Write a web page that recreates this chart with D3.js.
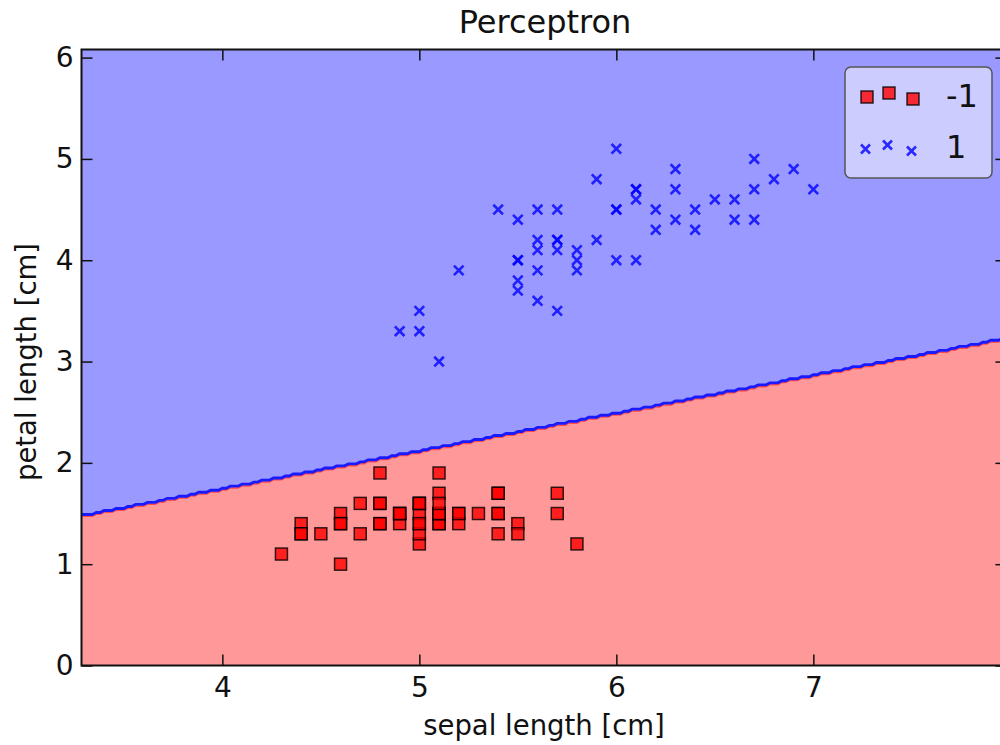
<!DOCTYPE html>
<html>
<head>
<meta charset="utf-8">
<script src="https://d3js.org/d3.v7.min.js"></script>
<style>
    body { margin: 0; background: #fff; }
    text { font-family: "DejaVu Sans", sans-serif; fill: #111; }
</style>
</head>
<body>
<div id="my_chart"></div>
<script>
// class -1 (setosa): sepal length / petal length
var setosaSepal = [5.1, 4.9, 4.7, 4.6, 5.0, 5.4, 4.6, 5.0, 4.4, 4.9,
    5.4, 4.8, 4.8, 4.3, 5.8, 5.7, 5.4, 5.1, 5.7, 5.1,
    5.4, 5.1, 4.6, 5.1, 4.8, 5.0, 5.0, 5.2, 5.2, 4.7,
    4.8, 5.4, 5.2, 5.5, 4.9, 5.0, 5.5, 4.9, 4.4, 5.1,
    5.0, 4.5, 4.4, 5.0, 5.1, 4.8, 5.1, 4.6, 5.3, 5.0];
var setosaPetal = [1.4, 1.4, 1.3, 1.5, 1.4, 1.7, 1.4, 1.5, 1.4, 1.5,
    1.5, 1.6, 1.4, 1.1, 1.2, 1.5, 1.3, 1.4, 1.7, 1.5,
    1.7, 1.5, 1.0, 1.7, 1.9, 1.6, 1.6, 1.5, 1.4, 1.6,
    1.6, 1.5, 1.5, 1.4, 1.5, 1.2, 1.3, 1.5, 1.3, 1.5,
    1.3, 1.3, 1.3, 1.6, 1.9, 1.4, 1.6, 1.4, 1.5, 1.4];

// class 1 (versicolor)
var versiSepal = [7.0, 6.4, 6.9, 5.5, 6.5, 5.7, 6.3, 4.9, 6.6, 5.2,
    5.0, 5.9, 6.0, 6.1, 5.6, 6.7, 5.6, 5.8, 6.2, 5.6,
    5.9, 6.1, 6.3, 6.1, 6.4, 6.6, 6.8, 6.7, 6.0, 5.7,
    5.5, 5.5, 5.8, 6.0, 5.4, 6.0, 6.7, 6.3, 5.6, 5.5,
    5.5, 6.1, 5.8, 5.0, 5.6, 5.7, 5.7, 6.2, 5.1, 5.7];
var versiPetal = [4.7, 4.5, 4.9, 4.0, 4.6, 4.5, 4.7, 3.3, 4.6, 3.9,
    3.5, 4.2, 4.0, 4.7, 3.6, 4.4, 4.5, 4.1, 4.5, 3.9,
    4.8, 4.0, 4.9, 4.7, 4.3, 4.4, 4.8, 5.0, 4.5, 3.5,
    3.8, 3.7, 3.9, 5.1, 4.5, 4.5, 4.7, 4.4, 4.1, 4.0,
    4.4, 4.6, 4.0, 3.3, 4.2, 4.2, 4.2, 4.3, 3.0, 4.1];

var xTicks = [4, 5, 6, 7];
var yTicks = [0, 1, 2, 3, 4, 5, 6];
var legendLabels = ["-1", "1"];

// decision boundary, read at the left and right edges of the plot
var boundaryX = [3.3, 7.95];
var boundaryY = [1.485, 3.22];
var gridStep = 0.02;
var gridX = [3.3, 7.98];

var margin = {
        top: 49.5,
        right: -6.4,
        bottom: 79.5,
        left: 81.5
    },
    width = 1000 - margin.left - margin.right,
    height = 745 - margin.top - margin.bottom;

var svg = d3.select("#my_chart")
    .append("svg")
    .attr("width", 1000)
    .attr("height", 745);

var plot = svg.append("g")
    .attr("transform", "translate(" + margin.left + "," + margin.top + ")");

var x = d3.scaleLinear()
    .domain([3.285, 7.98])
    .range([0, width]);
var y = d3.scaleLinear()
    .domain([0, 6.08])
    .range([height, 0]);

plot.append("clipPath")
    .attr("id", "clip")
    .append("rect")
    .attr("width", width)
    .attr("height", height);

var area = plot.append("g").attr("clip-path", "url(#clip)");

////////// decision regions //////////
var slope = (boundaryY[1] - boundaryY[0]) / (boundaryX[1] - boundaryX[0]);
var edge = [];
var nCols = Math.round((gridX[1] - gridX[0]) / gridStep);
for (var i = 0; i <= nCols; i++) {
    var gx = gridX[0] + i * gridStep;
    var ly = boundaryY[0] + slope * (gx - boundaryX[0]);
    var k = Math.ceil(ly / gridStep - 1e-9);
    edge.push([gx, (k - 0.5) * gridStep]);
}
// stretch to the plot edges
edge.unshift([x.domain()[0] - 0.05, edge[0][1]]);
edge.push([x.domain()[1] + 0.05, edge[edge.length - 1][1]]);

var line = d3.line()
    .x(d => x(d[0]))
    .y(d => y(d[1]));

var redPoly = edge.concat([[x.domain()[1] + 0.05, -0.1], [x.domain()[0] - 0.05, -0.1]]);
var bluePoly = edge.concat([[x.domain()[1] + 0.05, 6.2], [x.domain()[0] - 0.05, 6.2]]);

area.append("path")
    .attr("d", line(redPoly) + "Z")
    .attr("fill", "#ff9999");
area.append("path")
    .attr("d", line(bluePoly) + "Z")
    .attr("fill", "#9999ff");

area.append("path")
    .attr("d", line(edge))
    .attr("transform", "translate(0,1.8)")
    .attr("fill", "none")
    .attr("stroke", "#ff2a2a")
    .attr("stroke-opacity", 0.7)
    .attr("stroke-width", 1.5);
area.append("path")
    .attr("d", line(edge))
    .attr("fill", "none")
    .attr("stroke", "#1a1aff")
    .attr("stroke-width", 2.9);

////////// points //////////
var sq = 12;
area.selectAll("rect.neg")
    .data(setosaSepal)
    .enter()
    .append("rect")
    .attr("class", "neg")
    .attr("x", (d, i) => x(d) - sq / 2)
    .attr("y", (d, i) => y(setosaPetal[i]) - sq / 2)
    .attr("width", sq)
    .attr("height", sq)
    .attr("fill", "red")
    .attr("fill-opacity", 0.8)
    .attr("stroke", "black")
    .attr("stroke-opacity", 0.8)
    .attr("stroke-width", 1.5);

var cr = 4.8;
function cross(cx, cy, r) {
    return "M" + (cx - r) + "," + (cy - r) + "L" + (cx + r) + "," + (cy + r) +
        "M" + (cx - r) + "," + (cy + r) + "L" + (cx + r) + "," + (cy - r);
}
area.selectAll("path.pos")
    .data(versiSepal)
    .enter()
    .append("path")
    .attr("class", "pos")
    .attr("d", (d, i) => cross(x(d), y(versiPetal[i]), cr))
    .attr("fill", "none")
    .attr("stroke", "blue")
    .attr("stroke-opacity", 0.8)
    .attr("stroke-width", 2.6);

////////// axes //////////
var xAxis = plot.append("g")
    .attr("transform", "translate(0," + height + ")")
    .call(d3.axisBottom(x).tickValues(xTicks).tickSize(-11).tickPadding(12).tickFormat(d3.format("d")));
var yAxis = plot.append("g")
    .call(d3.axisLeft(y).tickValues(yTicks).tickSize(-11).tickPadding(8).tickFormat(d3.format("d")));
plot.append("g")
    .call(d3.axisTop(x).tickValues(xTicks).tickSize(-11).tickFormat(""));
plot.append("g")
    .attr("transform", "translate(" + width + ",0)")
    .call(d3.axisRight(y).tickValues(yTicks).tickSize(-11).tickFormat(""));

plot.selectAll(".domain").remove();
plot.selectAll(".tick line")
    .attr("stroke", "#111")
    .attr("stroke-width", 1.5);
plot.selectAll(".tick text")
    .attr("font-family", "DejaVu Sans")
    .attr("font-size", 28)
    .attr("fill", "#222");

// frame
plot.append("rect")
    .attr("width", width)
    .attr("height", height)
    .attr("fill", "none")
    .attr("stroke", "#111")
    .attr("stroke-width", 2);

////////// texts //////////
svg.append("text")
    .attr("x", 545)
    .attr("y", 33)
    .attr("text-anchor", "middle")
    .attr("font-size", 32)
    .text("Perceptron");

svg.append("text")
    .attr("x", 544)
    .attr("y", 735)
    .attr("text-anchor", "middle")
    .attr("font-size", 27.5)
    .text("sepal length [cm]");

svg.append("text")
    .attr("transform", "translate(36,362)rotate(-90)")
    .attr("text-anchor", "middle")
    .attr("font-size", 27.5)
    .text("petal length [cm]");

////////// legend //////////
var legend = svg.append("g");
legend.append("rect")
    .attr("x", 845)
    .attr("y", 67)
    .attr("width", 147)
    .attr("height", 111)
    .attr("rx", 6)
    .attr("fill", "#ccccff")
    .attr("stroke", "#555")
    .attr("stroke-width", 1.5);

var legX = [867, 889, 913];
var legDy = [1, -3, 3];
var lsq = 12;
legX.forEach(function(lx, j) {
    legend.append("rect")
        .attr("x", lx - lsq / 2)
        .attr("y", 96 + legDy[j] - lsq / 2)
        .attr("width", lsq)
        .attr("height", lsq)
        .attr("fill", "red")
        .attr("fill-opacity", 0.8)
        .attr("stroke", "black")
        .attr("stroke-opacity", 0.8)
        .attr("stroke-width", 1.5);
    legend.append("path")
        .attr("d", cross(lx - 1.5, 148 + legDy[j], 4.5))
        .attr("fill", "none")
        .attr("stroke", "blue")
        .attr("stroke-opacity", 0.8)
        .attr("stroke-width", 2.6);
});

legend.selectAll("text")
    .data(legendLabels)
    .enter()
    .append("text")
    .attr("x", 946)
    .attr("y", (d, i) => 107 + i * 51)
    .attr("font-size", 32)
    .text(d => d);
</script>
</body>
</html>
